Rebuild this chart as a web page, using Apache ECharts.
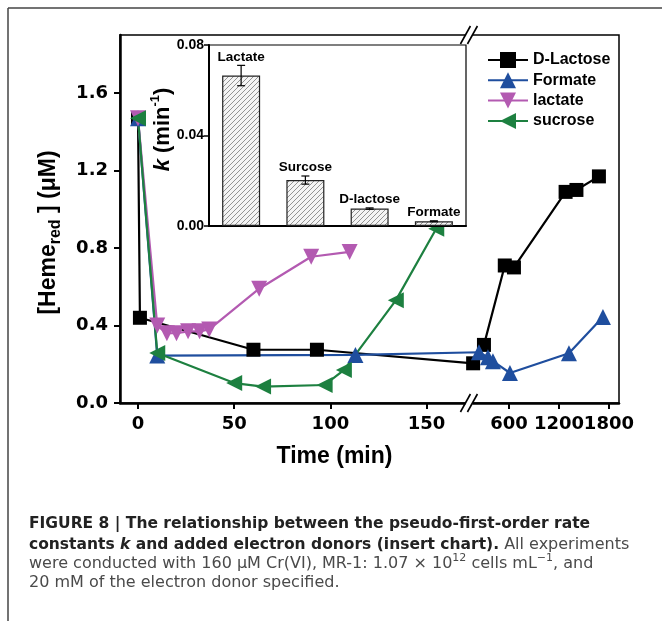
<!DOCTYPE html>
<html>
<head>
<meta charset="utf-8">
<script src="https://cdn.jsdelivr.net/npm/echarts@6/dist/echarts.min.js"></script>
<style>
  html, body { margin: 0; padding: 0; background: #fff; }
  #chart { width: 662px; height: 621px; }
</style>
</head>
<body>
<div id="chart"></div>
<script>
// ---- data (time in min, reduced heme in uM) ----
const lactoseTime = [0, 1, 60, 93, 170, 300, 550, 660, 1280, 1410, 1680];
const lactoseHeme = [1.47, 0.44, 0.275, 0.275, 0.205, 0.30, 0.71, 0.70, 1.09, 1.10, 1.17];

const formateTime = [0, 10, 113, 240, 348, 408, 612, 1320, 1728];
const formateHeme = [1.47, 0.245, 0.248, 0.262, 0.236, 0.216, 0.155, 0.257, 0.444];

const lactateTime = [0, 10, 15, 20, 26, 32, 37, 63, 90, 110];
const lactateHeme = [1.47, 0.40, 0.36, 0.36, 0.37, 0.37, 0.38, 0.59, 0.755, 0.78];

const sucroseTime = [0, 10, 50, 65, 97, 107, 134, 155];
const sucroseHeme = [1.47, 0.258, 0.103, 0.085, 0.093, 0.17, 0.53, 0.90];

const xTickTimes = [0, 50, 100, 150, 600, 1200, 1800];
const yTicks = [0, 0.4, 0.8, 1.2, 1.6];

// inset: rate constants
const barNames = ['Lactate', 'Surcose', 'D-lactose', 'Formate'];
const kValues = [0.0665, 0.0203, 0.0077, 0.0021];
const kErrors = [0.0045, 0.0018, 0.0003, 0.0002];
const kTicks = [0, 0.04, 0.08];

// ---- broken time axis: left part is linear in minutes, right part compressed ----
const BREAK_AT = 160;      // later points go to the right segment
const BREAK_U = 172;       // where the // marks sit
const RIGHT_U600 = 192.8;  // axis units of t = 600
const RIGHT_RATE = 0.0433; // axis units per minute on the right segment
function toU(t) {
    return t <= BREAK_AT ? t : RIGHT_U600 + (t - 600) * RIGHT_RATE;
}
const xTickU = xTickTimes.map(toU);
function xLabel(v) {
    let best = 0;
    xTickU.forEach((u, i) => { if (Math.abs(u - v) < Math.abs(xTickU[best] - v)) best = i; });
    return String(xTickTimes[best]);
}
const pts = (ts, vs) => ts.map((t, i) => [toU(t), vs[i]]);

// hatch pattern for the inset bars
const hatch = document.createElement('canvas');
hatch.width = 5; hatch.height = 5;
(function () {
    const c = hatch.getContext('2d');
    c.fillStyle = '#f4f4f4';
    c.fillRect(0, 0, 5, 5);
    c.strokeStyle = '#7a7a7a';
    c.lineWidth = 0.8;
    c.beginPath();
    c.moveTo(0, 5); c.lineTo(5, 0);
    c.moveTo(-1, 1); c.lineTo(1, -1);
    c.moveTo(4, 6); c.lineTo(6, 4);
    c.stroke();
})();

const BOLD = 'Liberation Sans, Arial, sans-serif';
const WIDE = 'DejaVu Sans, sans-serif';

const chart = echarts.init(document.getElementById('chart'));

const lineSeries = (name, data, color, symbol, size, rotate) => ({
    name: name,
    type: 'line',
    data: data,
    symbol: symbol,
    symbolSize: size,
    symbolRotate: rotate,
    showAllSymbol: true,
    lineStyle: { color: color, width: 2.2 },
    itemStyle: { color: color },
    z: 2
});

chart.setOption({
    animation: false,
    backgroundColor: '#fff',
    grid: [
        {
            left: 120, right: 43, top: 35, bottom: 218,
            show: true, borderColor: '#000', borderWidth: 1.5
        },
        {
            left: 209, right: 196, top: 45, bottom: 395,
            show: true, borderColor: '#000', borderWidth: 1.2,
            backgroundColor: '#fff', z: 10
        }
    ],
    legend: {
        orient: 'vertical',
        left: 487, top: 52,
        padding: 0,
        itemWidth: 40, itemHeight: 20, itemGap: 4.3,
        textStyle: { fontFamily: BOLD, fontWeight: 'bold', fontSize: 16, color: '#000' },
        data: ['D-Lactose', 'Formate', 'lactate', 'sucrose']
    },
    xAxis: [
        {
            type: 'value', gridIndex: 0,
            min: -9.36, max: 250,
            name: 'Time (min)', nameLocation: 'middle', nameGap: 42,
            nameTextStyle: {
                fontFamily: BOLD, fontWeight: 'bold', fontSize: 23, color: '#000',
                padding: [0, 70, 0, 0]
            },
            axisLine: { onZero: false, lineStyle: { color: '#000', width: 2.5 } },
            axisTick: { customValues: xTickU, length: 6, lineStyle: { color: '#000', width: 2 } },
            axisLabel: {
                customValues: xTickU, formatter: xLabel, margin: 12,
                fontFamily: WIDE, fontWeight: 'bold', fontSize: 18, color: '#000'
            },
            splitLine: { show: false }
        },
        {
            type: 'category', gridIndex: 1, data: barNames,
            axisLine: { lineStyle: { color: '#000', width: 2 } },
            axisTick: { show: false },
            axisLabel: { show: false },
            z: 11
        }
    ],
    yAxis: [
        {
            type: 'value', gridIndex: 0, min: 0, max: 1.9,
            name: '[Heme{sub|red} ] (μM)', nameLocation: 'middle', nameGap: 56,
            nameTextStyle: {
                fontFamily: BOLD, fontWeight: 'bold', fontSize: 23, color: '#000',
                lineHeight: 30, padding: [0, 27, 0, 0],
                rich: {
                    sub: { fontFamily: BOLD, fontWeight: 'bold', fontSize: 16, lineHeight: 16, verticalAlign: 'bottom', color: '#000' }
                }
            },
            axisLine: { show: true, onZero: false, lineStyle: { color: '#000', width: 2.5 } },
            axisTick: { show: true, customValues: yTicks, length: 6, lineStyle: { color: '#000', width: 2 } },
            axisLabel: {
                customValues: yTicks, formatter: v => v.toFixed(1), margin: 12,
                fontFamily: WIDE, fontWeight: 'bold', fontSize: 18, color: '#000'
            },
            splitLine: { show: false }
        },
        {
            type: 'value', gridIndex: 1, min: 0, max: 0.08,
            name: '{it|k} (min{sup|-1})', nameLocation: 'middle', nameGap: 32,
            nameMoveOverlap: false,
            nameTextStyle: {
                fontFamily: BOLD, fontWeight: 'bold', fontSize: 22, color: '#000',
                lineHeight: 28, padding: [0, 0, 0, 12],
                rich: {
                    it: { fontFamily: BOLD, fontWeight: 'bold', fontStyle: 'italic', fontSize: 22, color: '#000' },
                    sup: { fontFamily: BOLD, fontWeight: 'bold', fontSize: 13, lineHeight: 13, verticalAlign: 'top', color: '#000' }
                }
            },
            axisLine: { show: true, onZero: false, lineStyle: { color: '#000', width: 2 } },
            axisTick: { show: true, customValues: kTicks, length: 5, lineStyle: { color: '#000', width: 1.5 } },
            axisLabel: {
                customValues: kTicks, formatter: v => v.toFixed(2), margin: 5,
                fontFamily: BOLD, fontWeight: 'bold', fontSize: 14, color: '#000'
            },
            splitLine: { show: false },
            z: 11
        }
    ],
    series: [
        lineSeries('D-Lactose', pts(lactoseTime, lactoseHeme), '#000000', 'rect', 14, 0),
        lineSeries('Formate', pts(formateTime, formateHeme), '#1f4e9e', 'triangle', 16, 0),
        lineSeries('lactate', pts(lactateTime, lactateHeme), '#b35ab1', 'triangle', 16, 180),
        lineSeries('sucrose', pts(sucroseTime, sucroseHeme), '#1d8040', 'triangle', 16, 90),
        {
            type: 'bar', xAxisIndex: 1, yAxisIndex: 1,
            data: kValues, barWidth: 38,
            itemStyle: { color: { image: hatch, repeat: 'repeat' }, borderColor: '#222', borderWidth: 1.2 },
            z: 12
        },
        {
            type: 'custom', xAxisIndex: 1, yAxisIndex: 1,
            data: kValues.map((v, i) => [i, v, kErrors[i]]),
            z: 13,
            renderItem: (params, api) => {
                const hi = api.coord([api.value(0), api.value(1) + api.value(2)]);
                const lo = api.coord([api.value(0), api.value(1) - api.value(2)]);
                const w = 4;
                const st = { stroke: '#000', lineWidth: 1.2 };
                return {
                    type: 'group',
                    children: [
                        { type: 'line', shape: { x1: hi[0], y1: hi[1], x2: lo[0], y2: lo[1] }, style: st },
                        { type: 'line', shape: { x1: hi[0] - w, y1: hi[1], x2: hi[0] + w, y2: hi[1] }, style: st },
                        { type: 'line', shape: { x1: lo[0] - w, y1: lo[1], x2: lo[0] + w, y2: lo[1] }, style: st },
                        {
                            type: 'text', x: hi[0], y: hi[1] - 1.5,
                            style: {
                                text: barNames[params.dataIndex], align: 'center', verticalAlign: 'bottom',
                                font: 'bold 13.5px ' + BOLD, fill: '#000'
                            }
                        }
                    ]
                };
            }
        }
    ]
});

// axis break marks and figure frame
const bx = chart.convertToPixel({ xAxisIndex: 0 }, BREAK_U);
const yTop = chart.convertToPixel({ yAxisIndex: 0 }, 1.9);
const yBot = chart.convertToPixel({ yAxisIndex: 0 }, 0);
function breakMark(y) {
    const s = { stroke: '#000', lineWidth: 1.6 };
    return [
        { type: 'rect', shape: { x: bx - 3.5, y: y - 3, width: 7, height: 6 }, style: { fill: '#fff' }, z: 20 },
        { type: 'line', shape: { x1: bx - 8.5, y1: y + 9, x2: bx + 1.5, y2: y - 9 }, style: s, z: 21 },
        { type: 'line', shape: { x1: bx - 1.5, y1: y + 9, x2: bx + 8.5, y2: y - 9 }, style: s, z: 21 }
    ];
}
const caption = [
    { y: 524, text: '{b|FIGURE 8 | The relationship between the pseudo-first-order rate}' },
    { y: 544.5, text: '{b|constants }{bi|k}{b| and added electron donors (insert chart).} All experiments' },
    { y: 564, text: 'were conducted with 160 μM Cr(VI), MR-1: 1.07 × 10{sup|12} cells mL{sup|−1}, and' },
    { y: 583, text: '20 mM of the electron donor specified.' }
];
chart.setOption({
    graphic: [
        { type: 'line', shape: { x1: 8, y1: 8, x2: 662, y2: 8 }, style: { stroke: '#444', lineWidth: 1.5 } },
        { type: 'line', shape: { x1: 8, y1: 8, x2: 8, y2: 621 }, style: { stroke: '#444', lineWidth: 1.5 } },
        ...breakMark(yTop),
        ...breakMark(yBot),
        ...caption.map(c => ({
            type: 'text', x: 29, y: c.y,
            style: {
                text: c.text, verticalAlign: 'middle',
                font: '16px ' + WIDE, fill: '#4a4a4a', lineHeight: 22,
                rich: {
                    b: { fontFamily: WIDE, fontWeight: 'bold', fontSize: 15.5, fill: '#222', lineHeight: 22 },
                    bi: { fontFamily: WIDE, fontWeight: 'bold', fontStyle: 'italic', fontSize: 15.5, fill: '#222', lineHeight: 22 },
                    sup: { fontFamily: WIDE, fontSize: 11, lineHeight: 11, verticalAlign: 'top', fill: '#4a4a4a' }
                }
            }
        }))
    ]
});
</script>
</body>
</html>
